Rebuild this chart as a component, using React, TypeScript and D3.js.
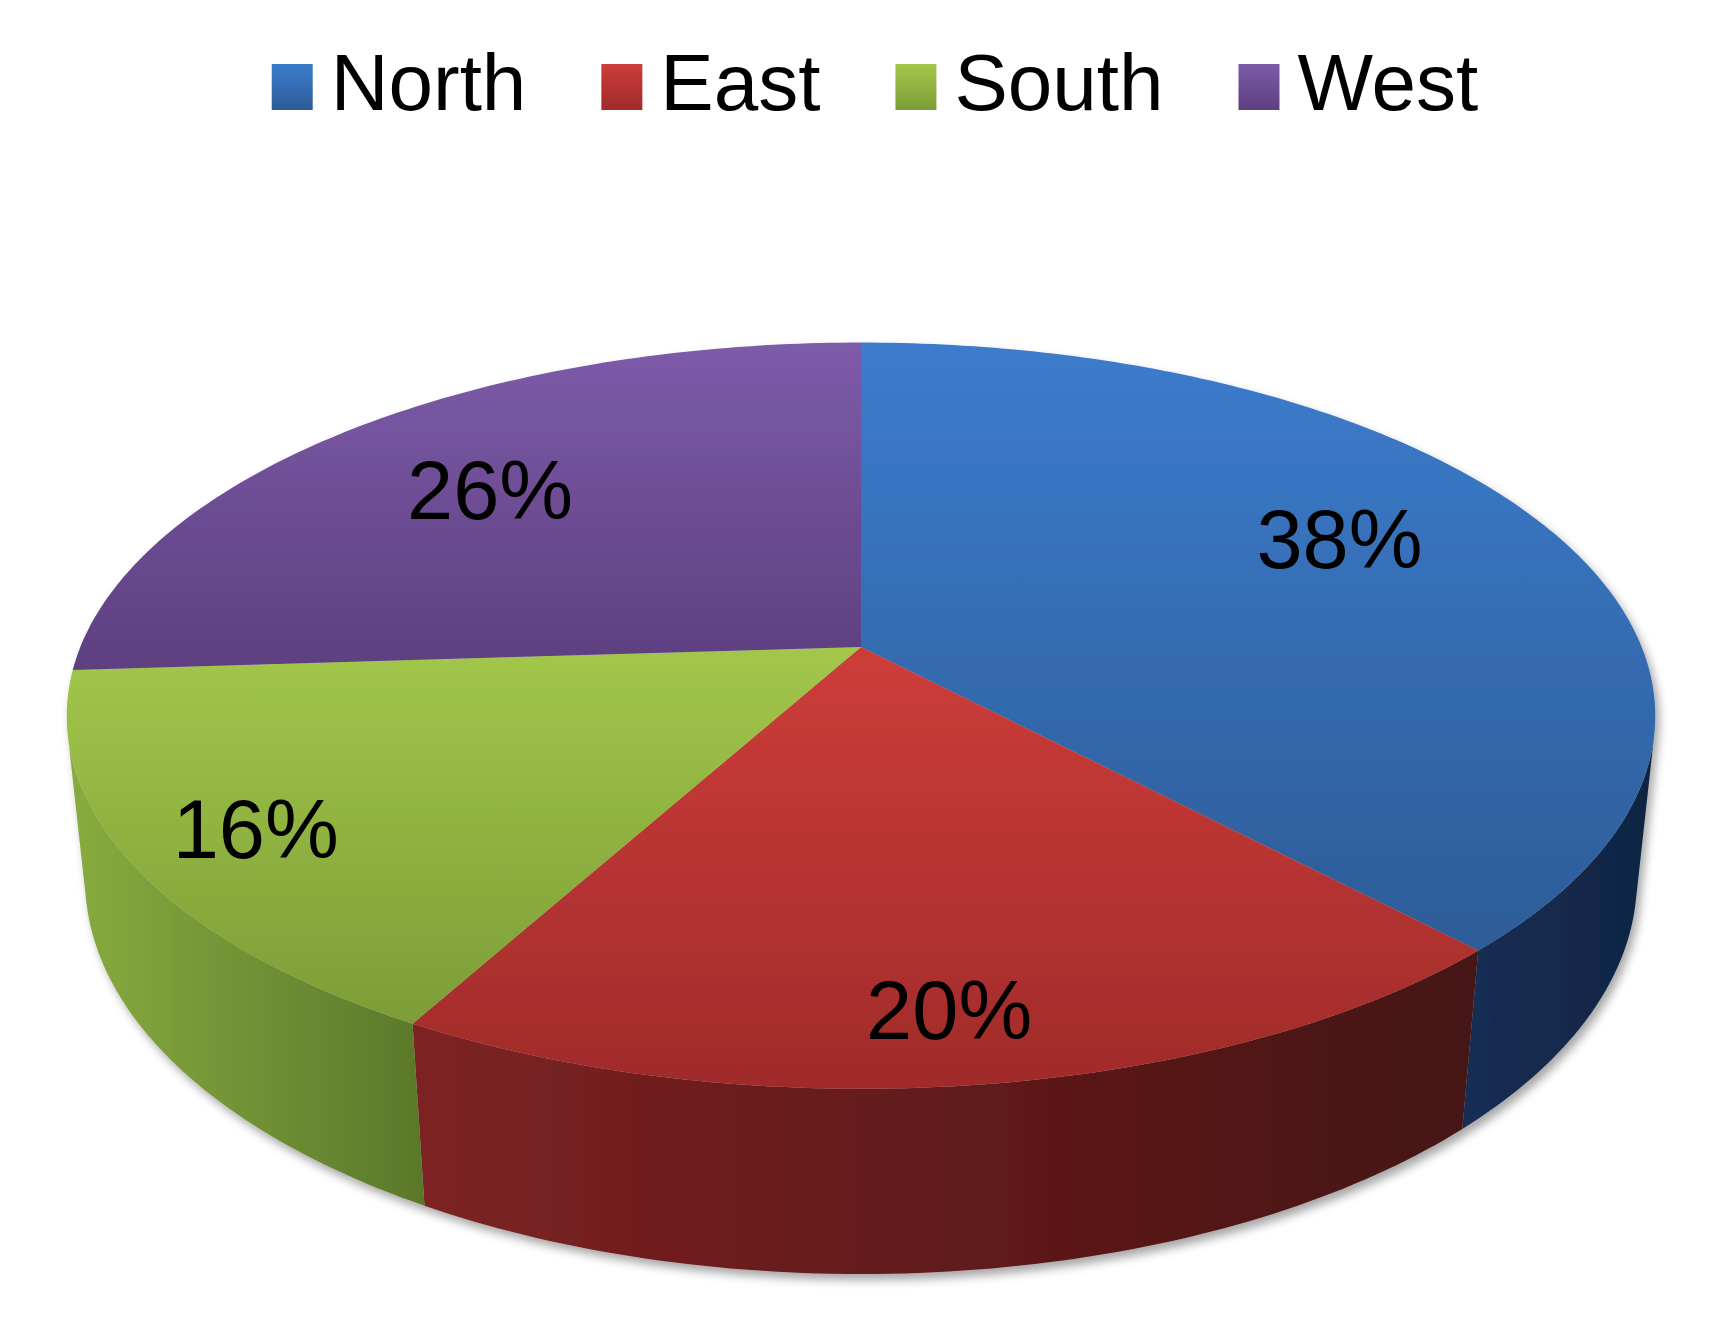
import React from "react";
import * as d3 from "d3";

// chart data
const regions = ["North", "East", "South", "West"];
const shares = [38, 20, 16, 26];
const shareLabels = ["38%", "20%", "16%", "26%"];

// palette: top face gradient (light -> dark), side gradient (left -> right)
const topColors = [
  ["#3c7ccc", "#2d5c98"],
  ["#cd3d39", "#a02b2a"],
  ["#a2c74a", "#7c9d37"],
  ["#7d5ba9", "#5d3f80"],
];
const sideColors = [
  ["#162e54", "#102442"],
  ["#7d2222", "#461313"],
  ["#88ac3f", "#5a782b"],
  ["#4a3066", "#3a2450"],
];

// label placement: distance from the centre (fraction of radius) and a small vertical nudge
const labelRadius = [0.69, 0.855, 0.842, 0.71];
const labelNudge = [[0, -21], [-11, 0], [0, 4], [0, 3]];

const W = 1720;
const H = 1332;
const CX = 861;
const CY = 647;
const F = 3763;
const DIST = 4.82;
const TILT = (27.5 * Math.PI) / 180;
const DEPTH = 0.239;
const cosT = Math.cos(TILT);
const sinT = Math.sin(TILT);

// perspective projection of a point on the disc (theta clockwise from 12 o'clock)
const project = (theta: number, y: number, r = 1): [number, number] => {
  const x = r * Math.sin(theta);
  const z = r * Math.cos(theta);
  const yc = y * cosT + z * sinT;
  const zc = DIST + z * cosT - y * sinT;
  return [CX + (F * x) / zc, CY - (F * yc) / zc];
};

const arcPoints = (a0: number, a1: number, y: number) => {
  const n = Math.max(8, Math.ceil(((a1 - a0) / (2 * Math.PI)) * 400));
  return d3.range(n + 1).map((i) => project(a0 + ((a1 - a0) * i) / n, y));
};

const line = d3.line();

const LEGEND_FONT = 80;
const LABEL_FONT = 83;
const FONT = "'Liberation Sans', Arial, sans-serif";

const measure = (() => {
  const ctx = document.createElement("canvas").getContext("2d");
  return (t: string) => {
    if (!ctx) return t.length * LEGEND_FONT * 0.5;
    ctx.font = `${LEGEND_FONT}px 'Liberation Sans'`;
    return ctx.measureText(t).width;
  };
})();

export default function App() {
  const arcs = d3
    .pie<number>()
    .sort(null)
    .startAngle(0)
    .endAngle(2 * Math.PI)(shares);

  // visible part of the outer wall
  const limit = Math.acos(-1 / (DIST * cosT));
  const vis0 = limit;
  const vis1 = 2 * Math.PI - limit;

  // legend layout
  const sw = 41;
  const sh = 46;
  const gapText = 18;
  const gapItem = 75;
  const widths = regions.map((r) => sw + gapText + measure(r));
  const total = d3.sum(widths) + gapItem * (regions.length - 1);
  let lx = 875 - total / 2;
  const legendX = widths.map((w) => {
    const x = lx;
    lx += w + gapItem;
    return x;
  });

  return (
    <svg
      width={W}
      height={H}
      style={{ position: "absolute", left: 0, top: 0, background: "#fff" }}
    >
      <defs>
        {topColors.map((c, i) => (
          <linearGradient key={"t" + i} id={"top" + i} x1="0" y1="0" x2="0" y2="1">
            <stop offset="0" stopColor={c[0]} />
            <stop offset="1" stopColor={c[1]} />
          </linearGradient>
        ))}
        {sideColors.map((c, i) => (
          <linearGradient key={"s" + i} id={"side" + i} x1="0" y1="0" x2="1" y2="0">
            <stop offset="0" stopColor={c[0]} />
            <stop offset="1" stopColor={c[1]} />
          </linearGradient>
        ))}
        <filter id="shadow" x="-5%" y="-5%" width="110%" height="115%">
          <feDropShadow dx="4" dy="6" stdDeviation="5" floodColor="#000" floodOpacity="0.35" />
        </filter>
      </defs>

      {/* legend */}
      <g fontFamily={FONT} fontSize={LEGEND_FONT}>
        {regions.map((r, i) => (
          <g key={r}>
            <rect x={legendX[i]} y={64} width={sw} height={sh} fill={`url(#top${i})`} />
            <text x={legendX[i] + sw + gapText} y={110} fill="#000">
              {r}
            </text>
          </g>
        ))}
      </g>

      {/* pie */}
      <g filter="url(#shadow)">
        {arcs.map((a, i) => {
          const lo = Math.max(a.startAngle, vis0);
          const hi = Math.min(a.endAngle, vis1);
          if (hi <= lo) return null;
          const pts = [...arcPoints(lo, hi, 0), ...arcPoints(lo, hi, -DEPTH).reverse()];
          return <path key={"side" + i} d={line(pts) + "Z"} fill={`url(#side${i})`} />;
        })}
        {arcs.map((a, i) => {
          const pts = [project(0, 0, 0), ...arcPoints(a.startAngle, a.endAngle, 0)];
          return <path key={"top" + i} d={line(pts) + "Z"} fill={`url(#top${i})`} />;
        })}
      </g>

      {/* value labels */}
      <g fontFamily={FONT} fontSize={LABEL_FONT} textAnchor="middle">
        {arcs.map((a, i) => {
          const mid = (a.startAngle + a.endAngle) / 2;
          const [x, y] = project(mid, 0, labelRadius[i]);
          return (
            <text
              key={"l" + i}
              x={x + labelNudge[i][0]}
              y={y + labelNudge[i][1]}
              dy="0.36em"
              fill="#000"
            >
              {shareLabels[i]}
            </text>
          );
        })}
      </g>
    </svg>
  );
}
